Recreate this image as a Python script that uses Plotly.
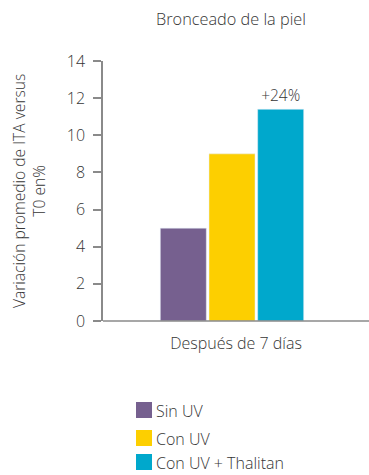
import plotly.graph_objects as go

# Data
categories = ["Después de 7 días"]
series_names = ["Sin UV", "Con UV", "Con UV + Thalitan"]
series_values = [[5.0], [9.0], [11.4]]
series_labels = [None, None, "+24%"]
colors = ["#76608f", "#fdcf00", "#00a8cc"]

W, H = 369, 475
L, R, T, B = 103, 8, 61, 154
pw, ph = W - L - R, H - T - B

def px_x(p):
    return (p - L) / pw

def px_y(p):
    return (H - B - p) / ph

FONT = "Open Sans"
WEIGHT = 300
TXT = "#363636"
AXIS = "#8a8a8a"

def f(size):
    return dict(size=size, color=TXT, family=FONT, weight=WEIGHT)

fig = go.Figure()
for name, vals, lab, col in zip(series_names, series_values, series_labels, colors):
    fig.add_trace(go.Bar(
        x=categories, y=vals, name=name, marker_color=col,
        text=[lab] if lab else None, textposition="outside",
        textfont=f(15.5), cliponaxis=False, showlegend=False,
    ))

shapes = []
annotations = []

# x axis baseline running to the right edge
shapes.append(dict(type="line", xref="paper", yref="paper",
                   x0=0, x1=px_x(W), y0=0, y1=0,
                   line=dict(color=AXIS, width=1.5)))

# legend drawn as swatches + labels
legend_rows = [410, 438, 462]
for name, col, cy in zip(series_names, colors, legend_rows):
    shapes.append(dict(type="rect", xref="paper", yref="paper",
                       x0=px_x(136), x1=px_x(152),
                       y0=px_y(cy + 8), y1=px_y(cy - 8),
                       fillcolor=col, line=dict(width=0)))
    annotations.append(dict(text=name, xref="paper", yref="paper",
                            x=px_x(154), y=px_y(cy + 1), xanchor="left", yanchor="middle",
                            showarrow=False, font=f(16)))

# y axis title
annotations.append(dict(text="Variación promedio de ITA versus<br>T0 en%",
                        xref="paper", yref="paper", x=px_x(29), y=px_y(191),
                        xanchor="center", yanchor="middle", textangle=-90,
                        showarrow=False, font=f(15.6)))

fig.update_layout(
    width=W, height=H,
    margin=dict(l=L, r=R, t=T, b=B),
    paper_bgcolor="white", plot_bgcolor="white",
    font=f(15),
    title=dict(text="Bronceado de la piel", x=231 / W, xanchor="center",
               y=1 - 19 / H, yanchor="middle", font=f(16.3)),
    barmode="group", bargap=0.434, bargroupgap=0.055,
    shapes=shapes, annotations=annotations,
)
fig.update_xaxes(showline=False, ticks="", showgrid=False, zeroline=False,
                 tickfont=f(16), ticklabelstandoff=11, ticklabelshift=4)
fig.update_yaxes(range=[0, 14], dtick=2, showline=True, linecolor=AXIS, linewidth=1.5,
                 ticks="outside", ticklen=8, tickcolor=AXIS, tickwidth=1.5,
                 showgrid=False, zeroline=False, tickfont=f(16), ticklabelstandoff=5)

fig.write_html("out.html")
